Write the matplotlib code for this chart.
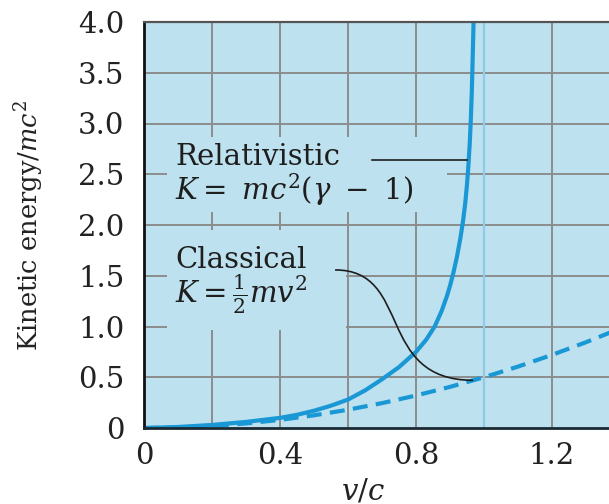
import matplotlib
matplotlib.use("Agg")
import matplotlib.pyplot as plt
from matplotlib.path import Path
from matplotlib.patches import PathPatch, Rectangle

# values
rel_v = [0, 0.1, 0.2, 0.3, 0.4, 0.45, 0.5, 0.55, 0.6, 0.65, 0.7, 0.75, 0.8,
         0.83, 0.855, 0.875, 0.89, 0.9, 0.91, 0.92, 0.93, 0.938, 0.945, 0.95,
         0.954, 0.958, 0.961, 0.964, 0.966, 0.968, 0.970]
rel_k = [0, 0.01, 0.03, 0.06, 0.10, 0.13, 0.17, 0.22, 0.28, 0.37, 0.48, 0.60,
         0.75, 0.87, 1.0, 1.15, 1.29, 1.40, 1.53, 1.68, 1.86, 2.03, 2.22, 2.40,
         2.58, 2.80, 3.02, 3.30, 3.55, 3.82, 4.1]
cls_v = [0, 0.1, 0.2, 0.3, 0.4, 0.5, 0.6, 0.7, 0.8, 0.9, 1.0, 1.1, 1.2, 1.3, 1.4]
cls_k = [0, 0.005, 0.02, 0.045, 0.08, 0.125, 0.18, 0.245, 0.32, 0.405, 0.5,
         0.605, 0.72, 0.845, 0.98]

x_ticks = [0, 0.4, 0.8, 1.2]
x_ticklabels = ["0", "0.4", "0.8", "1.2"]
y_ticks = [0, 0.5, 1.0, 1.5, 2.0, 2.5, 3.0, 3.5, 4.0]
y_ticklabels = ["0", "0.5", "1.0", "1.5", "2.0", "2.5", "3.0", "3.5", "4.0"]
x_grid = [0.2, 0.4, 0.6, 0.8, 1.2]
y_grid = [0.5, 1.0, 1.5, 2.0, 2.5, 3.0, 3.5]
c_line = 1.0  # v = c

plt.rcParams['font.family'] = ['DejaVu Serif']
plt.rcParams['mathtext.fontset'] = 'dejavuserif'

BG = '#bee1ef'
BLUE = '#1a98d5'
GRID = '#8c8c8c'
INK = '#1e1e1e'

fig = plt.figure(figsize=(6.09, 5.04), dpi=100)
ax = fig.add_axes([144 / 609, 76 / 504, 1 - 144 / 609, 406 / 504])
ax.set_facecolor(BG)
ax.set_xlim(0, 465 / 340)
ax.set_ylim(0, 4.0)

# grid drawn by hand so the line at v=c can be light blue
for xv in x_grid:
    ax.axvline(xv, color=GRID, lw=1.4, zorder=0.5)
for yv in y_grid:
    ax.axhline(yv, color=GRID, lw=1.4, zorder=0.5)
ax.axvline(c_line, color='#8fcbe6', lw=1.6, zorder=0.6)

# blank patches behind the labels (grid is cut there)
ax.add_patch(Rectangle((0.068, 2.13), 0.823, 0.74, facecolor=BG, edgecolor='none', zorder=1))
ax.add_patch(Rectangle((0.068, 0.965), 0.526, 0.985, facecolor=BG, edgecolor='none', zorder=1))

ax.plot(rel_v, rel_k, color=BLUE, lw=3.0, solid_capstyle='butt', zorder=2)
ax.plot(cls_v, cls_k, color=BLUE, lw=3.0, dashes=(3.6, 2.0), zorder=2)

ax.spines['right'].set_visible(False)
ax.spines['left'].set_linewidth(2.0)
ax.spines['left'].set_color('#111111')
ax.spines['bottom'].set_linewidth(2.0)
ax.spines['bottom'].set_color('#1a2a33')
ax.spines['top'].set_linewidth(1.6)
ax.spines['top'].set_color('#555555')

ax.set_xticks(x_ticks)
ax.set_xticklabels(x_ticklabels)
ax.set_yticks(y_ticks)
ax.set_yticklabels(y_ticklabels)
ax.tick_params(axis='both', length=0, labelsize=21, colors='#222222')
ax.tick_params(axis='x', pad=10)
ax.tick_params(axis='y', pad=14)

ax.set_xlabel(r"$v/c$", fontsize=21, color='#222222')
ax.xaxis.set_label_coords(0.471, -0.122)
ax.set_ylabel(r"Kinetic energy/$mc^2$", fontsize=18.5, color='#222222')
ax.yaxis.set_label_coords(-0.21, 0.5)

tkw = dict(fontsize=21, color=INK, va='baseline', ha='left', zorder=3)
ax.text(0.091, 2.59, "Relativistic", **tkw)
ax.text(0.091, 2.25, r"$K =\ mc^2(\gamma\ -\ 1)$", **tkw)
ax.text(0.091, 1.58, "Classical", **tkw)
ax.text(0.091, 1.24, r"$K = \frac{1}{2}mv^2$", **tkw)

# leader lines
ax.plot([0.671, 0.95], [2.64, 2.64], color=INK, lw=1.2, zorder=4)
verts = [(0.562, 1.557), (0.79, 1.56), (0.68, 0.47), (0.968, 0.47)]
path = Path(verts, [Path.MOVETO, Path.CURVE4, Path.CURVE4, Path.CURVE4])
ax.add_patch(PathPatch(path, facecolor='none', edgecolor=INK, lw=1.2, zorder=4))

fig.savefig("out.png", dpi=100)
